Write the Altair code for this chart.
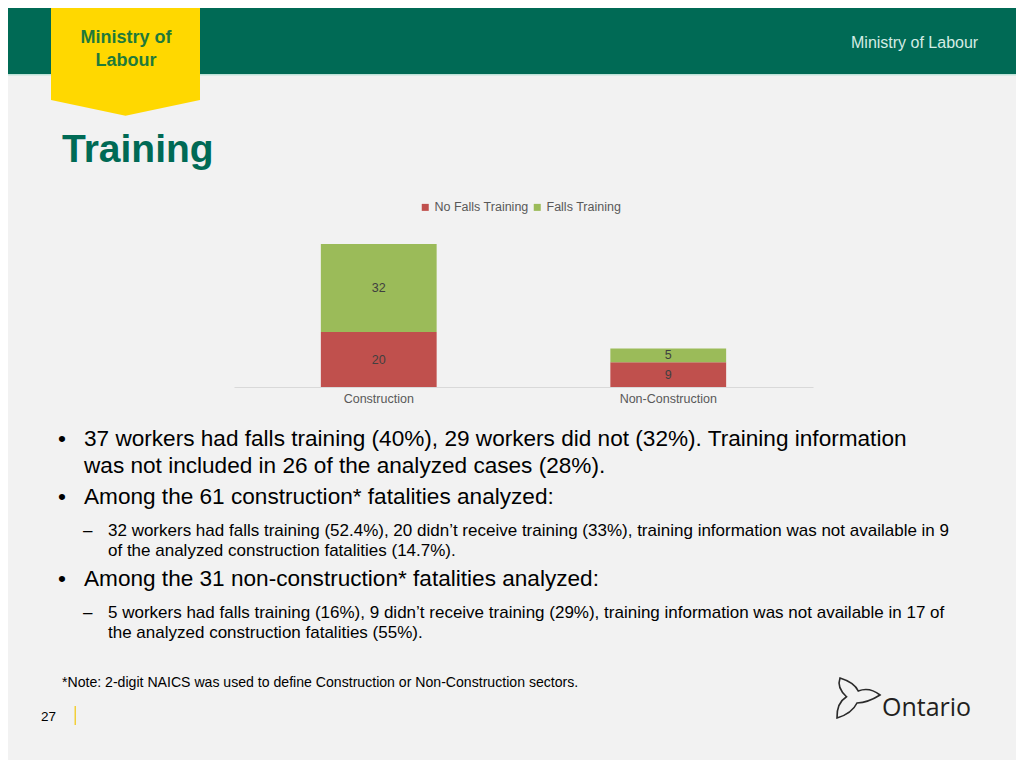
import altair as alt
import pandas as pd

# ---- data ----
sectors = ["Construction", "Non-Construction"]
series = ["No Falls Training", "Falls Training"]
no_falls_training = [20, 9]
falls_training = [32, 5]
series_colors = ["#c0504d", "#9bbb59"]

rows = []
for i, s in enumerate(sectors):
    rows.append({"sector": s, "series": series[0], "ord": 0, "value": no_falls_training[i]})
    rows.append({"sector": s, "series": series[1], "ord": 1, "value": falls_training[i]})
df = pd.DataFrame(rows)

# ---- layout ----
W, H = 1008, 752
PL, PT = 226, 214
PW, PH = 579, 165
PR = W - PL - PW
PB = H - PT - PH

FONT = "Liberation Sans"
one = pd.DataFrame({"k": [0]})


def X(sx):
    return sx - 8 - PL


def Y(sy):
    return sy - 8 - PT


def rect(x1, y1, x2, y2, color):
    return alt.Chart(one).mark_rect(color=color, strokeWidth=0, opacity=1).encode(
        x=alt.value(X(x1)), x2=alt.value(X(x2)), y=alt.value(Y(y1)), y2=alt.value(Y(y2))
    )


def txt(sx, sy, s, size, color="#000000", weight="normal", align="left", font=FONT):
    return alt.Chart(one).mark_text(
        text=s, fontSize=size, color=color, fontWeight=weight, align=align,
        baseline="alphabetic", font=font
    ).encode(x=alt.value(X(sx)), y=alt.value(Y(sy)))


layers = []
# header band
layers.append(rect(0, 0, 1024, 74, "#006a55"))
layers.append(rect(0, 74, 1024, 75.5, "#bfe3d9"))
# yellow badge
badge_path = "M-1,-1.5 L1,-1.5 L1,0 L0,0.21 L-1,0 Z"
layers.append(
    alt.Chart(one).mark_point(shape=badge_path, size=149 * 149, filled=True,
                              color="#ffd800", opacity=1, strokeWidth=0)
    .encode(x=alt.value(X(125.5)), y=alt.value(Y(100)))
)
layers.append(txt(126, 43, "Ministry of", 18, "#1f7a3a", "bold", "center"))
layers.append(txt(126, 66, "Labour", 18, "#1f7a3a", "bold", "center"))
layers.append(txt(851, 48, "Ministry of Labour", 16, "#d4ece4"))
# title
layers.append(txt(62, 162, "Training", 39, "#006a55", "bold"))

# ---- bar chart ----
base = alt.Chart(df).transform_stack(
    stack="value", groupby=["sector"], as_=["v0", "v1"], sort=[alt.SortField("ord")]
).transform_calculate(mid="(datum.v0 + datum.v1) / 2")

xenc = alt.X(
    "sector:N", sort=sectors, title=None,
    scale=alt.Scale(paddingInner=0.6, paddingOuter=0.3),
    axis=alt.Axis(labelAngle=0, ticks=False, domainColor="#d9d9d9", domainWidth=1,
                  labelColor="#595959", labelFontSize=12.5, labelFont=FONT,
                  labelPadding=5, grid=False),
)
yscale = alt.Scale(domain=[0, 60], nice=False)

bars = base.mark_bar(strokeWidth=0).encode(
    x=xenc,
    y=alt.Y("v0:Q", scale=yscale, axis=None),
    y2="v1:Q",
    color=alt.Color(
        "series:N",
        scale=alt.Scale(domain=series, range=series_colors),
        legend=alt.Legend(
            orient="none", legendX=X(419), legendY=Y(201), direction="horizontal",
            title=None, symbolType="square", symbolSize=49, symbolStrokeWidth=0,
            labelFontSize=12.5, labelFont=FONT, labelColor="#595959",
            labelOffset=3, columnPadding=2, padding=0,
        ),
    ),
)
labels = base.mark_text(fontSize=12.5, font=FONT, color="#404040", baseline="middle").encode(
    x=alt.X("sector:N", sort=sectors),
    y=alt.Y("mid:Q", scale=yscale),
    text="value:Q",
)
layers.append(bars)
layers.append(labels)

# ---- bullets ----
B = 22.6
S = 17
layers.append(txt(58, 446, "\u2022", B))
layers.append(txt(84, 446, "37 workers had falls training (40%), 29 workers did not (32%). Training information", B))
layers.append(txt(84, 473, "was not included in 26 of the analyzed cases (28%).", B))
layers.append(txt(58, 504, "\u2022", B))
layers.append(txt(84, 504, "Among the 61 construction* fatalities analyzed:", B))
layers.append(txt(83, 536, "\u2013", S))
layers.append(txt(108, 536, "32 workers had falls training (52.4%), 20 didn\u2019t receive training (33%), training information was not available in 9", S))
layers.append(txt(108, 556, "of the analyzed construction fatalities (14.7%).", S))
layers.append(txt(58, 586, "\u2022", B))
layers.append(txt(84, 586, "Among the 31 non-construction* fatalities analyzed:", B))
layers.append(txt(83, 618, "\u2013", S))
layers.append(txt(108, 618, "5 workers had falls training (16%), 9 didn\u2019t receive training (29%), training information was not available in 17 of", S))
layers.append(txt(108, 638, "the analyzed construction fatalities (55%).", S))
layers.append(txt(62, 687, "*Note: 2-digit NAICS was used to define Construction or Non-Construction sectors.", 14.1))

# ---- footer ----
layers.append(txt(41, 721, "27", 13.5))
layers.append(rect(74.5, 706, 76, 725, "#f2cf3a"))
trillium = ("M-0.68,-0.8 Q-0.1,-0.62 0.05,-0.28 Q0.5,-0.45 0.92,-0.12 Q0.45,0.18 0.0,0.2 "
            "Q-0.2,0.62 -0.8,0.8 Q-0.82,0.2 -0.42,-0.05 Q-0.82,-0.42 -0.68,-0.8 Z")
layers.append(
    alt.Chart(one).mark_point(shape=trillium, size=2500, filled=False, stroke="#2b2b2b",
                              strokeWidth=1.6, opacity=1)
    .encode(x=alt.value(X(857)), y=alt.value(Y(698)))
)
layers.append(txt(882, 716, "Ontario", 25, "#231f20", "normal", "left", "Open Sans"))

chart = alt.layer(*layers).properties(
    width=PW, height=PH,
    padding={"left": PL, "top": PT, "right": PR, "bottom": PB},
    autosize=alt.AutoSizeParams(type="none"),
    background="#f2f2f2",
).configure_view(stroke=None)

chart.save("out.html", embed_options={"renderer": "svg", "actions": False})
